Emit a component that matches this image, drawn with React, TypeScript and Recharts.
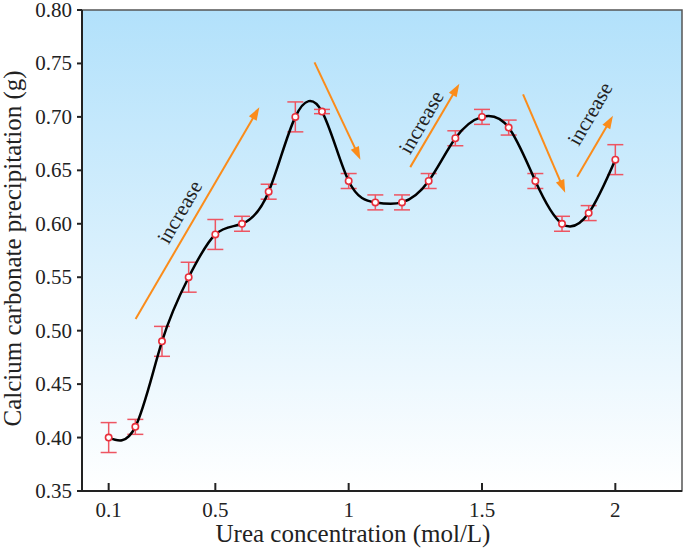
import React from "react";
import {
  LineChart,
  Line,
  XAxis,
  YAxis,
  ErrorBar,
  ReferenceArea,
  ReferenceLine,
  ReferenceDot,
} from "recharts";

const concentration = [0.1, 0.2, 0.3, 0.4, 0.5, 0.6, 0.7, 0.8, 0.9, 1.0, 1.1, 1.2, 1.3, 1.4, 1.5, 1.6, 1.7, 1.8, 1.9, 2.0];
const precipitation = [0.4, 0.41, 0.49, 0.55, 0.59, 0.6, 0.63, 0.7, 0.705, 0.64, 0.62, 0.62, 0.64, 0.68, 0.7, 0.69, 0.64, 0.6, 0.61, 0.66];
const errors = [0.014, 0.007, 0.014, 0.014, 0.014, 0.007, 0.007, 0.014, 0.002, 0.007, 0.007, 0.007, 0.007, 0.007, 0.007, 0.007, 0.007, 0.007, 0.007, 0.014];

const xTicks = [0.1, 0.5, 1, 1.5, 2];
const yTicks = [0.35, 0.4, 0.45, 0.5, 0.55, 0.6, 0.65, 0.7, 0.75, 0.8];

// annotation arrows, in data units (start -> tip)
const arrows = [
  { x1: 0.201, y1: 0.511, x2: 0.665, y2: 0.709 },
  { x1: 0.872, y1: 0.751, x2: 1.044, y2: 0.66 },
  { x1: 1.231, y1: 0.653, x2: 1.415, y2: 0.731 },
  { x1: 1.654, y1: 0.721, x2: 1.812, y2: 0.629 },
  { x1: 1.857, y1: 0.644, x2: 1.991, y2: 0.701 },
];
const notes = [
  { x: 0.366, y: 0.611, text: "increase" },
  { x: 1.272, y: 0.695, text: "increase" },
  { x: 1.905, y: 0.703, text: "increase" },
];

const data = concentration.map((c, i) => ({ x: c, y: precipitation[i], err: errors[i] }));

const FONT = '"Liberation Serif", "Times New Roman", serif';
const ORANGE = "#fb8c1a";

const Arrow = (p: any) => {
  const { x1, y1, x2, y2 } = p;
  const dx = x2 - x1;
  const dy = y2 - y1;
  const len = Math.sqrt(dx * dx + dy * dy);
  const ux = dx / len;
  const uy = dy / len;
  const hl = 13;
  const hw = 4.5;
  const bx = x2 - ux * hl;
  const by = y2 - uy * hl;
  const pts = `${x2},${y2} ${bx - uy * hw},${by + ux * hw} ${bx + uy * hw},${by - ux * hw}`;
  return (
    <g>
      <line x1={x1} y1={y1} x2={bx + ux * 2} y2={by + uy * 2} stroke={ORANGE} strokeWidth={2} />
      <polygon points={pts} fill={ORANGE} />
    </g>
  );
};

const Background = (p: any) => (
  <g>
    <defs>
      <linearGradient id="bgGrad" x1="0" y1="0" x2="0" y2="1">
        <stop offset="0%" stopColor="#b2e1fb" />
        <stop offset="100%" stopColor="#ffffff" />
      </linearGradient>
    </defs>
    <rect x={p.x} y={p.y} width={p.width} height={p.height} fill="url(#bgGrad)" stroke="#555" strokeWidth={1.5} />
  </g>
);

const XTick = (p: any) => {
  const { x, y, payload } = p;
  return (
    <g>
      <line x1={x} x2={x} y1={y} y2={y - 8} stroke="#222" strokeWidth={2} />
      <text x={x} y={y + 26} textAnchor="middle" fill="#222" fontSize={21} style={{ fontFamily: FONT }}>
        {String(payload.value)}
      </text>
    </g>
  );
};

const YTick = (p: any) => {
  const { x, y, payload } = p;
  return (
    <text x={x} y={y} dy={7} textAnchor="end" fill="#222" fontSize={21} style={{ fontFamily: FONT }}>
      {payload.value.toFixed(2)}
    </text>
  );
};

const XTitle = (p: any) => {
  const vb = p.viewBox;
  return (
    <text x={vb.x + vb.width / 2 - 29} y={vb.y + vb.height - 6} textAnchor="middle" fill="#222" fontSize={25} style={{ fontFamily: FONT }}>
      Urea concentration (mol/L)
    </text>
  );
};

const YTitle = (p: any) => {
  const vb = p.viewBox;
  const cy = vb.y + vb.height / 2 - 2;
  return (
    <text x={21} y={cy} transform={`rotate(-90, 21, ${cy})`} textAnchor="middle" fill="#222" fontSize={25} style={{ fontFamily: FONT }}>
      Calcium carbonate precipitation (g)
    </text>
  );
};

const renderDot = (p: any) => (
  <circle key={`d${p.index}`} cx={p.cx} cy={p.cy} r={3.2} fill="#fff" stroke="#e8303c" strokeWidth={1.6} />
);

export default function App() {
  return (
    <div style={{ position: "absolute", left: 0, top: 0, background: "#fff" }}>
      <LineChart width={685} height={548} data={data} margin={{ top: 10, right: 3, bottom: 0, left: 0 }}>
        <ReferenceArea x1={0} x2={2.25} y1={0.35} y2={0.8} shape={Background} zIndex={-1000} />
        <XAxis
          type="number"
          dataKey="x"
          domain={[0, 2.25]}
          ticks={xTicks}
          height={57}
          tickLine={false}
          tickSize={0}
          tickMargin={0}
          tick={XTick}
          axisLine={{ stroke: "#222", strokeWidth: 2 }}
          label={{ value: "Urea concentration (mol/L)", content: XTitle }}
        />
        <YAxis
          type="number"
          domain={[0.35, 0.8]}
          ticks={yTicks}
          width={82}
          tickSize={5}
          tickMargin={5}
          tick={YTick}
          tickLine={{ stroke: "#222", strokeWidth: 2 }}
          axisLine={{ stroke: "#222", strokeWidth: 2 }}
          label={{ value: "Calcium carbonate precipitation (g)", content: YTitle }}
        />
        {arrows.map((a, i) => (
          <ReferenceLine
            key={`a${i}`}
            segment={[
              { x: a.x1, y: a.y1 },
              { x: a.x2, y: a.y2 },
            ]}
            shape={Arrow}
          />
        ))}
        {notes.map((n, i) => (
          <ReferenceDot
            key={`n${i}`}
            x={n.x}
            y={n.y}
            r={1}
            shape={(p: any) => (
              <text
                x={p.cx}
                y={p.cy}
                transform={`rotate(-60, ${p.cx}, ${p.cy})`}
                textAnchor="middle"
                dominantBaseline="central"
                fill="#222"
                fontSize={21}
                style={{ fontFamily: FONT }}
              >
                {n.text}
              </text>
            )}
          />
        ))}
        <Line
          type="natural"
          dataKey="y"
          stroke="#000"
          strokeWidth={2.5}
          dot={renderDot}
          activeDot={false}
          isAnimationActive={false}
        >
          <ErrorBar dataKey="err" direction="y" width={8} stroke="#ee5562" strokeWidth={1.5} />
        </Line>
      </LineChart>
    </div>
  );
}
